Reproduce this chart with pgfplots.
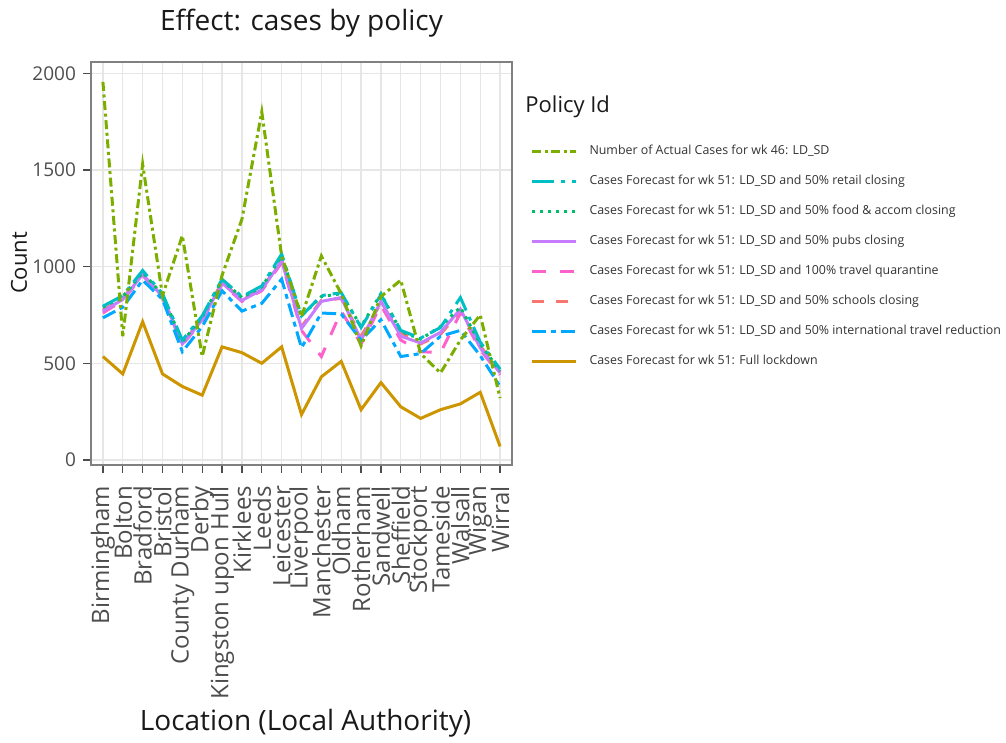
\documentclass[border=0pt]{standalone}
\usepackage{pgfplots}
\pgfplotsset{compat=1.18}
\usepackage{pgfplotstable}
\usepackage{fontspec}
\setmainfont{Open Sans}
\definecolor{cActual}{HTML}{7CAE00}
\definecolor{cRetail}{HTML}{00BFC4}
\definecolor{cFood}{HTML}{00BE67}
\definecolor{cPubs}{HTML}{C77CFF}
\definecolor{cQuar}{HTML}{FF61CC}
\definecolor{cSchool}{HTML}{F8766D}
\definecolor{cIntl}{HTML}{00A9FF}
\definecolor{cFull}{HTML}{CD9600}
\definecolor{txtgray}{HTML}{4D4D4D}
\definecolor{gridgray}{HTML}{E6E6E6}

\pgfplotstableread{
idx Actual Retail Food Pubs Quar School Intl Full
0   1955   795    790  770  760  775    735  535
1   640    850    845  830  825  835    790  445
2   1530   980    970  960  955  965    930  715
3   850    860    855  845  840  845    830  445
4   1160   620    610  600  595  605    560  380
5   535    745    740  725  720  730    690  335
6   955    935    930  915  910  920    875  585
7   1245   845    840  825  820  830    770  555
8   1800   900    895  880  875  885    810  500
9   1055   1065   1055 1030 1020 1035   935  585
10  740    745    745  680  670  690    580  235
11  1055   850    845  820  535  825    760  430
12  860    865    860  840  770  835    755  510
13  590    685    690  620  600  640    620  260
14  845    855    860  820  800  810    725  400
15  930    670    665  640  620  660    535  275
16  550    630    625  605  560  600    550  215
17  450    685    690  660  555  650    640  260
18  620    840    790  780  760  770    670  290
19  750    610    600  580  570  590    540  350
20  320    470    460  450  440  455    380  70
}\data

\tikzset{
  sActual/.style={cActual, line width=1.5pt, dash pattern=on 4.5pt off 1.8pt on 1.5pt off 1.8pt},
  sRetail/.style={cRetail, line width=1.5pt, dash pattern=on 11pt off 3.5pt on 2pt off 3.5pt},
  sFood/.style={cFood, line width=1.5pt, dash pattern=on 1.5pt off 2.5pt},
  sPubs/.style={cPubs, line width=1.5pt},
  sQuar/.style={cQuar, line width=1.5pt, dash pattern=on 7pt off 7pt},
  sSchool/.style={cSchool, line width=1.5pt, dash pattern=on 6pt off 6pt},
  sIntl/.style={cIntl, line width=1.5pt, dash pattern=on 7pt off 2.5pt on 2.5pt off 2.5pt},
  sFull/.style={cFull, line width=1.5pt},
}

\begin{document}
\begin{tikzpicture}
\path[use as bounding box] (-45.5pt,-139pt) rectangle (457.5pt,232.5pt);
\begin{axis}[
  at={(0,0)}, anchor=south west,
  scale only axis,
  width=210.5pt, height=201.5pt,
  xmin=-0.6, xmax=20.6, ymin=-26, ymax=2058,
  xtick={0,...,20},
  xticklabels={Birmingham,Bolton,Bradford,Bristol,County Durham,Derby,Kingston upon Hull,Kirklees,Leeds,Leicester,Liverpool,Manchester,Oldham,Rotherham,Sandwell,Sheffield,Stockport,Tameside,Walsall,Wigan,Wirral},
  ytick={0,500,1000,1500,2000},
  /pgf/number format/assume math mode=true,
  /pgf/number format/1000 sep={},
  xticklabel style={rotate=90, anchor=east, font=\fontsize{12}{12}\selectfont, text=txtgray},
  xticklabel shift=3pt,
  yticklabel style={font=\fontsize{9.5}{9.5}\selectfont, text=txtgray},
  tick align=outside, xtick pos=left, ytick pos=left,
  major tick length=4pt,
  tick style={black!70, line width=0.6pt},
  grid=major,
  major grid style={gridgray, line width=0.6pt},
  axis line style={black!50, line width=0.6pt},
  legend cell align=left,
  legend style={at={(1.043,0.794)}, anchor=north west, draw=none, fill=none,
    font=\fontsize{6.2}{6.2}\selectfont, text=black!80, inner sep=0pt,
    row sep=9pt, column sep=6pt,
    nodes={inner sep=0pt, text height=4.5pt, text depth=1.5pt}},
  legend image code/.code={\draw[#1] (0pt,0pt) -- (22pt,0pt);},
]
\addplot[sSchool, forget plot] table[x=idx, y=School] {\data};
\addplot[sQuar, forget plot] table[x=idx, y=Quar] {\data};
\addplot[sPubs, forget plot] table[x=idx, y=Pubs] {\data};
\addplot[sIntl, forget plot] table[x=idx, y=Intl] {\data};
\addplot[sFood, forget plot] table[x=idx, y=Food] {\data};
\addplot[sRetail, forget plot] table[x=idx, y=Retail] {\data};
\addplot[sActual, forget plot] table[x=idx, y=Actual] {\data};
\addplot[sFull, forget plot] table[x=idx, y=Full] {\data};
\addlegendimage{sActual}\addlegendentry{Number of Actual Cases for wk 46: LD\_SD}
\addlegendimage{sRetail}\addlegendentry{Cases Forecast for wk 51: LD\_SD and 50\% retail closing}
\addlegendimage{sFood}\addlegendentry{Cases Forecast for wk 51: LD\_SD and 50\% food \& accom closing}
\addlegendimage{sPubs}\addlegendentry{Cases Forecast for wk 51: LD\_SD and 50\% pubs closing}
\addlegendimage{sQuar}\addlegendentry{Cases Forecast for wk 51: LD\_SD and 100\% travel quarantine}
\addlegendimage{sSchool}\addlegendentry{Cases Forecast for wk 51: LD\_SD and 50\% schools closing}
\addlegendimage{sIntl}\addlegendentry{Cases Forecast for wk 51: LD\_SD and 50\% international travel reduction}
\addlegendimage{sFull}\addlegendentry{Cases Forecast for wk 51: Full lockdown}
\end{axis}
\node[font=\fontsize{14}{14}\selectfont, text=black!90] at (105.25pt,221pt) {Effect: cases by policy};
\node[font=\fontsize{14}{14}\selectfont, text=black!90] at (107.25pt,-129pt) {Location (Local Authority)};
\node[font=\fontsize{11}{11}\selectfont, text=black!90, rotate=90] at (-36pt,101pt) {Count};
\node[font=\fontsize{11}{11}\selectfont, text=black!90, anchor=west, inner sep=0pt] at (217pt,179pt) {Policy Id};
\end{tikzpicture}
\end{document}
